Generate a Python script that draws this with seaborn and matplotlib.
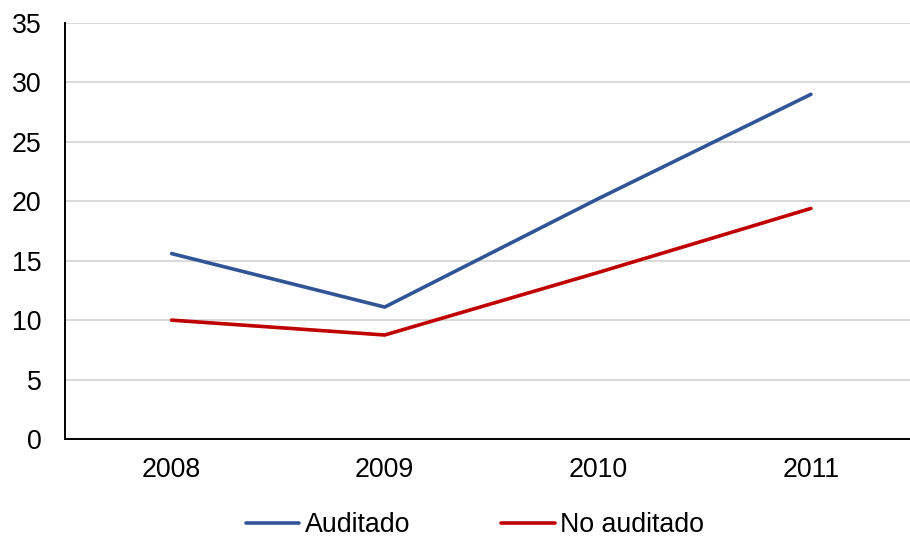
import matplotlib
matplotlib.use("Agg")
import matplotlib.pyplot as plt
import seaborn as sns
import pandas as pd

years = ["2008", "2009", "2010", "2011"]
auditado = [15.6, 11.1, 20.2, 29.0]
no_auditado = [10.0, 8.75, 14.0, 19.4]
series_names = ["Auditado", "No auditado"]
colors = ["#2F5597", "#C00000"]

df = pd.DataFrame({
    "year": years * 2,
    "value": auditado + no_auditado,
    "serie": [series_names[0]] * len(years) + [series_names[1]] * len(years),
})

sns.set_theme(style="white")
plt.rcParams["font.family"] = ["Liberation Sans", "DejaVu Sans"]
plt.rcParams["text.color"] = "black"

fig = plt.figure(figsize=(9.10, 5.42), dpi=100)
ax = fig.add_axes([65 / 910, 103 / 542, 852.5 / 910, 416 / 542])

sns.lineplot(data=df, x="year", y="value", hue="serie", palette=colors,
             linewidth=2.6, ax=ax, sort=False, legend=False)

ax.set_xlim(-0.5, 3.5)
ax.set_ylim(0, 35)
ax.set_yticks(range(0, 36, 5))
ax.yaxis.grid(True, color="#d9d9d9", linewidth=1.4)
ax.set_axisbelow(True)
ax.set_xlabel("")
ax.set_ylabel("")
for side in ["top", "right"]:
    ax.spines[side].set_visible(False)
for side in ["left", "bottom"]:
    ax.spines[side].set_color("black")
    ax.spines[side].set_linewidth(1.4)
ax.tick_params(axis="y", length=0, pad=17, labelsize=19.3, colors="black")
ax.tick_params(axis="x", length=0, pad=13, labelsize=19.3, colors="black")

handles = [plt.Line2D([], [], color=c, linewidth=2.6) for c in colors]
fig.legend(handles, series_names, loc="center", bbox_to_anchor=(475 / 910, 1 - 525 / 542),
           ncol=2, frameon=False, fontsize=19.3, handlelength=2.0, handletextpad=0.2,
           columnspacing=3.4, labelcolor="black")

fig.savefig("out.png", dpi=100)
